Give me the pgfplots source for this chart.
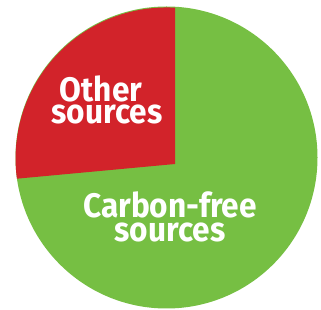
\documentclass[border=0pt]{standalone}
\usepackage{pgfplots}
\pgfplotsset{compat=1.18}
\usepackage{fontspec}
\setmainfont{Fira Sans}[FakeStretch=0.93]
\definecolor{cfree}{HTML}{76BF43}
\definecolor{other}{HTML}{D2232A}
% shares (percent)
\def\othershare{28}
\def\freeshare{72}
\begin{document}
\begin{tikzpicture}
\begin{axis}[
  x=1pt, y=1pt, xmin=0, xmax=321, ymin=0, ymax=310,
  hide axis, clip=false, scale only axis]
\path (axis cs:0,0) rectangle (axis cs:321,310);
% full disc: carbon-free sources
\fill[cfree] (axis cs:166.5,152.5) circle[radius=151pt];
% wedge: other sources (vertex offset as in the reference)
\pgfmathsetmacro{\startang}{86.8}
\pgfmathsetmacro{\endang}{\startang+\othershare*3.6+0.1}
\fill[other] (axis cs:175,146) -- (axis cs:175,302.3)
   arc[start angle=\startang, end angle=\endang, radius=151pt] -- cycle;
\tikzset{lbl/.style={white, font=\fontsize{34}{26}\selectfont\bfseries, anchor=base, inner sep=0pt}}
\node[lbl] at (axis cs:101,208) {Other};
\node[lbl] at (axis cs:107,186) {sources};
\node[lbl] at (axis cs:170,92) {Carbon-free};
\node[lbl] at (axis cs:170,68) {sources};
\end{axis}
\end{tikzpicture}
\end{document}
